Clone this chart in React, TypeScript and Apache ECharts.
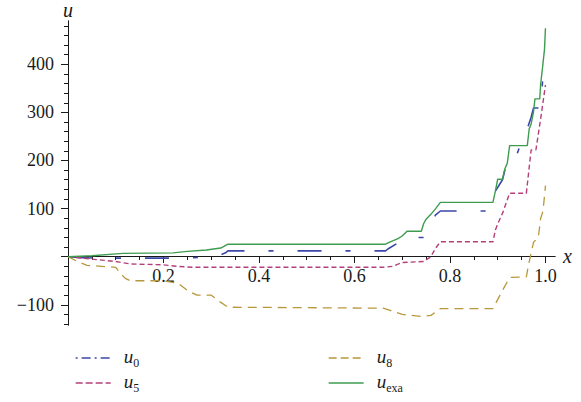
import React, { useEffect, useRef } from "react";
import * as echarts from "echarts";

// ---- data ----
const u0Points: [number, number][] = [
  [0, 0], [0.03, -2], [0.06, -3], [0.125, -3], [0.25, -3], [0.28, -1], [0.31, 0],
  [0.33, 8], [0.335, 12], [0.665, 12], [0.67, 16], [0.7, 34], [0.71, 40], [0.745, 40],
  [0.75, 50], [0.76, 70], [0.77, 87], [0.78, 95], [0.88, 95], [0.89, 120], [0.895, 136],
  [0.91, 160], [0.92, 200], [0.925, 212], [0.94, 212], [0.95, 240], [0.96, 260],
  [0.97, 290], [0.975, 309], [0.99, 309], [0.995, 380], [1.0, 400],
];
const u5Points: [number, number][] = [
  [0, 0], [0.03, -3], [0.06, -6], [0.1, -10], [0.13, -15], [0.2, -17], [0.23, -20],
  [0.26, -22], [0.66, -22], [0.68, -20], [0.7, -12], [0.745, -10], [0.76, 0], [0.77, 18],
  [0.78, 31], [0.89, 31], [0.895, 55], [0.9, 68], [0.91, 90], [0.925, 132], [0.96, 132],
  [0.97, 222], [0.98, 222], [0.99, 287], [1.0, 357],
];
const u8Points: [number, number][] = [
  [0, 0], [0.02, -10], [0.04, -18], [0.07, -20], [0.1, -22], [0.11, -35], [0.12, -45],
  [0.13, -50], [0.2, -50], [0.23, -55], [0.25, -70], [0.27, -80], [0.3, -80], [0.32, -95],
  [0.335, -105], [0.66, -107], [0.67, -110], [0.7, -120], [0.74, -124], [0.76, -122],
  [0.78, -108], [0.89, -108], [0.91, -70], [0.925, -43], [0.96, -42], [0.965, -15],
  [0.975, 30], [0.985, 40], [0.99, 80], [0.995, 95], [1.0, 148],
];
const uexaPoints: [number, number][] = [
  [0, 0], [0.05, 2], [0.115, 7], [0.22, 8], [0.25, 11], [0.29, 14], [0.32, 18], [0.335, 26],
  [0.665, 26], [0.675, 31], [0.69, 37], [0.7, 43], [0.71, 53], [0.74, 53], [0.745, 69],
  [0.75, 78], [0.76, 88], [0.77, 100], [0.78, 113], [0.89, 113], [0.895, 136], [0.9, 161],
  [0.91, 161], [0.915, 183], [0.92, 194], [0.925, 231], [0.962, 231], [0.966, 266],
  [0.97, 276], [0.975, 301], [0.978, 328], [0.988, 328], [0.99, 359], [0.994, 394],
  [0.998, 431], [1.0, 475],
];

const seriesNames = ["u0", "u5", "u8", "uexa"];
const legendSubs: Record<string, string> = { u0: "0", u5: "5", u8: "8", uexa: "exa" };
const xMajorTicks = [0, 0.2, 0.4, 0.6, 0.8, 1.0];
const xTickLabels = [0.2, 0.4, 0.6, 0.8, 1.0];
const yMajorTicks = [-100, 0, 100, 200, 300, 400];
const yTickLabels = [-100, 100, 200, 300, 400];
const xMinorTicks = [
  0.05, 0.1, 0.15, 0.25, 0.3, 0.35, 0.45, 0.5, 0.55, 0.65, 0.7, 0.75, 0.85, 0.9, 0.95,
];
const yMinorTicks = [
  -140, -120, -80, -60, -40, -20, 20, 40, 60, 80, 120, 140, 160, 180, 220, 240, 260, 280,
  320, 340, 360, 380, 420, 440, 460, 480,
];

const X_MIN = 0;
const X_MAX = 1.02;
const Y_MIN = -142;
const Y_MAX = 490;

const SERIF = "Liberation Serif";
const TEXT = "#1a1a1a";
const COLORS = {
  u0: "#3b47a8",
  u5: "#b3407a",
  u8: "#b8983c",
  uexa: "#3e9c50",
};

const GRID_LEFT = 68;
const GRID_TOP = 18;
const GRID_W = 487;
const GRID_H = 307;

export default function App() {
  const ref = useRef<HTMLDivElement>(null);

  useEffect(() => {
    if (!ref.current) return;
    const chart = echarts.init(ref.current, undefined, { renderer: "svg" });

    // place x axis at u = 0 (distance of zero from grid bottom)
    const xAxisOffset = -(GRID_H * (0 - Y_MIN)) / (Y_MAX - Y_MIN);

    const axisLineStyle = { color: TEXT, width: 1 };
    const legendRich = {
      i: {
        fontFamily: SERIF,
        fontStyle: "italic",
        fontSize: 19,
        color: TEXT,
        lineHeight: 22,
        verticalAlign: "top",
      },
      s: {
        fontFamily: SERIF,
        fontSize: 12,
        color: TEXT,
        lineHeight: 12,
        padding: [12, 0, 0, 0],
        verticalAlign: "bottom",
      },
      sp: { fontSize: 10, width: 8 },
    };
    const legendFormatter = (name: string) => `{sp|}{i|u}{s|${legendSubs[name]}}`;

    const makeXAxis = (main: boolean) => ({
      type: "value",
      min: X_MIN,
      max: X_MAX,
      position: "bottom",
      offset: xAxisOffset,
      name: main ? "x" : "",
      nameLocation: "end",
      nameGap: 8,
      nameTextStyle: { fontFamily: SERIF, fontStyle: "italic", fontSize: 20, color: TEXT },
      axisLine: { show: true, onZero: false, lineStyle: axisLineStyle },
      axisTick: {
        show: true,
        inside: false,
        length: main ? 7 : 4,
        customValues: main ? xMajorTicks : xMinorTicks,
        lineStyle: axisLineStyle,
      },
      axisLabel: main
        ? {
            show: true,
            customValues: xTickLabels,
            formatter: (v: number) => v.toFixed(1),
            fontFamily: SERIF,
            fontSize: 18,
            color: TEXT,
            margin: 11,
          }
        : { show: false },
      splitLine: { show: false },
      minorTick: { show: false },
    });

    const makeYAxis = (main: boolean) => ({
      type: "value",
      min: Y_MIN,
      max: Y_MAX,
      position: "left",
      name: main ? "u" : "",
      nameLocation: "end",
      nameGap: 1,
      nameTextStyle: { fontFamily: SERIF, fontStyle: "italic", fontSize: 20, color: TEXT },
      axisLine: { show: true, onZero: false, lineStyle: axisLineStyle },
      axisTick: {
        show: true,
        inside: false,
        length: main ? 7 : 4,
        customValues: main ? yMajorTicks : yMinorTicks,
        lineStyle: axisLineStyle,
      },
      axisLabel: main
        ? {
            show: true,
            customValues: yTickLabels,
            formatter: (v: number) => (v < 0 ? "\u2212" + String(-v) : String(v)),
            fontFamily: SERIF,
            fontSize: 18,
            color: TEXT,
            margin: 14,
          }
        : { show: false },
      splitLine: { show: false },
      minorTick: { show: false },
    });

    const dataMap: Record<string, [number, number][]> = {
      u0: u0Points,
      u5: u5Points,
      u8: u8Points,
      uexa: uexaPoints,
    };
    const dashMap: Record<string, any> = {
      u0: [24, 24, 5, 24],
      u5: [5, 3],
      u8: [9, 6],
      uexa: "solid",
    };
    const widthMap: Record<string, number> = { u0: 1.6, u5: 1.4, u8: 1.3, uexa: 1.4 };

    const legendBase = {
      top: 345,
      orient: "vertical",
      padding: 0,
      itemWidth: 35,
      itemHeight: 14,
      itemGap: 1,
      selectedMode: false,
      formatter: legendFormatter,
      textStyle: { rich: legendRich },
      itemStyle: { opacity: 0, borderWidth: 0, color: "transparent" },
    };

    chart.setOption({
      animation: false,
      backgroundColor: "#ffffff",
      grid: { left: GRID_LEFT, top: GRID_TOP, width: GRID_W, height: GRID_H, containLabel: false },
      xAxis: [makeXAxis(true), makeXAxis(false)],
      yAxis: [makeYAxis(true), makeYAxis(false)],
      legend: [
        {
          ...legendBase,
          left: 75,
          data: [
            { name: "u0", lineStyle: { type: [2, 4, 9, 4], width: 1.3 } },
            { name: "u5", lineStyle: { type: [7, 3], width: 1.3 } },
          ],
        },
        {
          ...legendBase,
          left: 328,
          data: [
            { name: "u8", lineStyle: { type: [8, 4], width: 1.3 } },
            { name: "uexa", lineStyle: { type: "solid", width: 1.3 } },
          ],
        },
      ],
      series: seriesNames.map((name) => ({
        name,
        type: "line",
        xAxisIndex: 0,
        yAxisIndex: 0,
        data: dataMap[name],
        showSymbol: false,
        symbol: "none",
        color: COLORS[name as keyof typeof COLORS],
        lineStyle: {
          color: COLORS[name as keyof typeof COLORS],
          width: widthMap[name],
          type: dashMap[name],
        },
        z: name === "uexa" ? 3 : 2,
      })),
    });

    return () => chart.dispose();
  }, []);

  return (
    <div
      ref={ref}
      style={{ position: "fixed", left: 0, top: 0, width: 581, height: 402, background: "#fff" }}
    />
  );
}
